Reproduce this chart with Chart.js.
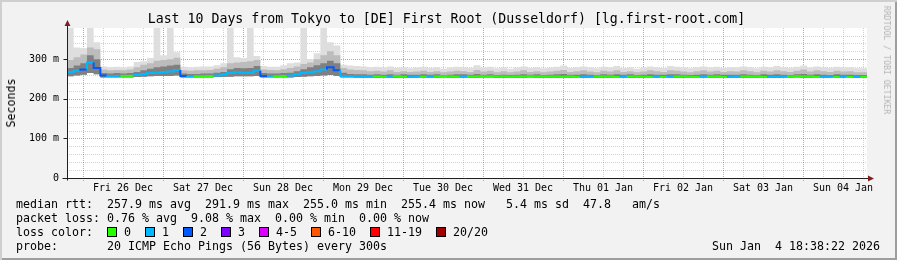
<!DOCTYPE html>
<html>
<head>
<meta charset="utf-8">
<title>smokeping 10 days</title>
<script src="https://cdn.jsdelivr.net/npm/chart.js@4.4.1/dist/chart.umd.min.js"></script>
<style>
  body { margin: 0; background: #fff; }
  #frame {
    position: relative; width: 897px; height: 260px; overflow: hidden;
    background: #f2f2f2;
    box-shadow: inset 2px 2px 0 #cfcfcf, inset -2px -2px 0 #9e9e9e;
    font-family: "DejaVu Sans Mono", monospace; color: #000;
  }
  #frame canvas { position: absolute; left: 0; top: 0; }
  .txt { position: absolute; white-space: pre; font-size: 11.63px; line-height: 14px; }
  #title { left: -2px; width: 897px; top: 10px; text-align: center; font-size: 13.24px; line-height: 17px; }
  #ylab { left: 11px; top: 103px; transform: translate(-50%, -50%) rotate(-90deg); }
  #credit { left: 887px; top: 60px; transform: translate(-50%, -50%) rotate(90deg); font-size: 8.2px; line-height: 10px; color: #b4b4b4; }
  .sq { display: inline-block; width: 8px; height: 8px; border: 1px solid #000; vertical-align: -1px; }
</style>
</head>
<body>
<div id="frame">
  <canvas id="smoke" width="897" height="260"></canvas>
  <div class="txt" id="title">Last 10 Days from Tokyo to [DE] First Root (Dusseldorf) [lg.first-root.com]</div>
  <div class="txt" id="ylab">Seconds</div>
  <div class="txt" id="credit">RRDTOOL / TOBI OETIKER</div>
  <div class="txt" style="left:16px;top:197px">median rtt:  257.9 ms avg  291.9 ms max  255.0 ms min  255.4 ms now   5.4 ms sd  47.8   am/s</div>
  <div class="txt" style="left:16px;top:211px">packet loss: 0.76 % avg  9.08 % max  0.00 % min  0.00 % now</div>
  <div class="txt" id="losscolor" style="left:16px;top:225px"></div>
  <div class="txt" style="left:16px;top:239px">probe:       20 ICMP Echo Pings (56 Bytes) every 300s</div>
  <div class="txt" style="left:712px;top:239px">Sun Jan  4 18:38:22 2026</div>
</div>
<script>
// one value per 2 hour step, starting at the left edge of the graph
const STEP_H = 2;
const SPAN_H = 240;
const FIRST_MIDNIGHT_H = 4.8;   // Fri 26 Dec 00:00, in hours after graph start

const dayLabels = ['Fri 26 Dec', 'Sat 27 Dec', 'Sun 28 Dec', 'Mon 29 Dec', 'Tue 30 Dec',
                   'Wed 31 Dec', 'Thu 01 Jan', 'Fri 02 Jan', 'Sat 03 Jan', 'Sun 04 Jan'];
const yTickValues = [0, 100, 200, 300];

const lossLabels = ['0', '1', '2', '3', '4-5', '6-10', '11-19', '20/20'];
const lossColors = ['#26ff00', '#00b8ff', '#0059ff', '#7e00ff', '#dd00ff', '#ff5500', '#ff0000', '#a10000'];

// median rtt (ms)
const median = [
  262, 268, 271, 274, 291.9, 278, 259, 258, 258, 258,
  258, 260, 263, 265, 266, 268, 269, 273, 258, 257,
  257, 257, 258, 259, 261, 265, 267, 266, 266, 271,
  258, 258, 257, 258, 259, 262, 265, 267, 270, 274,
  280, 272, 258, 257.5, 257, 257, 257, 256.5, 256, 256.5,
  257, 256, 256, 256.5, 256, 256.5, 256.5, 257, 256.5, 256,
  256.5, 256.5, 256.5, 257, 257, 256.5, 256.5, 256, 256.5, 256.5,
  257, 256.5, 256.5, 256.5, 256.5, 256, 256.5, 255.5, 255.5, 256.5,
  256.5, 256.5, 256.5, 255.5, 256.5, 256.5, 256.5, 256, 255.5, 256.5,
  255.5, 256.5, 256.5, 256.5, 256, 255.5, 256.5, 256.5, 256.5, 255.5,
  255.5, 256.5, 256.5, 256.5, 256.5, 255.5, 255.5, 255.5, 256.5, 256.5,
  257, 256.5, 256.5, 255.5, 255.5, 256.5, 255.5, 256, 255.5, 255.5
];

// lost pings out of 20, per step
const loss = [
  1, 1, 2, 1, 2, 2, 1, 1, 0, 0,
  1, 1, 1, 1, 1, 1, 1, 2, 1, 0,
  0, 0, 1, 1, 1, 1, 1, 1, 1, 2,
  1, 0, 0, 1, 1, 1, 1, 1, 1, 2,
  2, 1, 1, 1, 1, 1, 0, 0, 1, 0,
  0, 1, 1, 0, 1, 0, 0, 0, 0, 1,
  0, 0, 0, 0, 0, 0, 0, 0, 0, 0,
  0, 0, 0, 0, 0, 0, 0, 1, 1, 0,
  0, 0, 0, 1, 0, 0, 0, 0, 1, 0,
  1, 0, 0, 0, 0, 1, 0, 0, 0, 1,
  1, 0, 0, 0, 0, 1, 1, 1, 0, 0,
  0, 0, 0, 1, 1, 0, 1, 0, 1, 0
];

// smoke: fastest ping, 75th / 90th percentile, slowest ping (ms)
const pingMin = [
  255, 257, 259, 261, 265, 262, 254, 254, 254, 254,
  254, 255, 256, 257, 258, 258, 258, 259, 254, 254,
  254, 254, 254, 255, 255, 256, 257, 257, 257, 258,
  254, 254, 254, 254, 254, 255, 256, 257, 258, 259,
  260, 258, 254, 254, 253.5, 253.5, 253.5, 253, 253, 253.5,
  253.5, 253, 253, 253.5, 253, 253.5, 253.5, 254, 253.5, 253,
  253.5, 253.5, 253.5, 254, 254, 253.5, 253.5, 253, 253.5, 253.5,
  254, 253.5, 253.5, 253.5, 253.5, 253, 253.5, 252.5, 252.5, 253.5,
  253.5, 253.5, 253.5, 252.5, 253.5, 253.5, 253.5, 253, 252.5, 253.5,
  252.5, 253.5, 253.5, 253.5, 253, 252.5, 253.5, 253.5, 253.5, 252.5,
  252.5, 253.5, 253.5, 253.5, 253.5, 252.5, 252.5, 252.5, 253.5, 253.5,
  254, 253.5, 253.5, 252.5, 252.5, 253.5, 252.5, 253, 252.5, 252.5
];
const pingP75 = [
  268, 278, 284, 290, 310, 300, 265, 264, 265, 264,
  265, 268, 272, 276, 280, 282, 284, 286, 264, 263,
  263, 264, 264, 266, 268, 275, 278, 277, 278, 283,
  265, 264, 264, 265, 266, 270, 275, 280, 285, 290,
  296, 290, 266, 263, 262, 262, 261, 262, 261, 262,
  261, 262, 261, 261, 262, 261, 262, 260, 261, 262,
  262, 261, 263, 261, 262, 260, 261, 260, 261, 262,
  261, 262, 260, 261, 262, 263, 261, 261, 262, 261,
  260, 262, 261, 262, 261, 262, 260, 261, 262, 261,
  261, 262, 262, 261, 260, 261, 262, 261, 262, 261,
  261, 261, 262, 261, 260, 262, 261, 262, 261, 260,
  262, 263, 261, 262, 261, 260, 262, 261, 261, 260
];
const pingP90 = [
  282, 298, 305, 312, 330, 325, 274, 272, 273, 272,
  274, 280, 286, 290, 296, 298, 300, 304, 272, 271,
  272, 272, 273, 276, 280, 290, 292, 293, 295, 298,
  274, 273, 272, 275, 278, 282, 288, 292, 300, 310,
  320, 310, 278, 274, 273, 272, 270, 271, 269, 272,
  268, 270, 268, 269, 271, 268, 270, 267, 269, 271,
  270, 268, 273, 269, 271, 267, 270, 267, 269, 272,
  268, 270, 267, 269, 271, 273, 268, 270, 272, 269,
  267, 271, 269, 272, 268, 270, 267, 269, 272, 270,
  268, 272, 271, 269, 267, 270, 272, 269, 271, 268,
  270, 269, 272, 270, 267, 271, 269, 272, 270, 268,
  271, 274, 269, 272, 270, 268, 271, 269, 270, 267
];
const pingMax = [
  296, 385, 330, 328, 385, 343, 282, 280, 281, 279,
  282, 293, 295, 303, 385, 310, 385, 318, 281, 279,
  281, 282, 282, 285, 290, 385, 305, 303, 385, 308,
  283, 281, 281, 285, 290, 292, 385, 300, 315, 385,
  343, 335, 286, 284, 283, 282, 280, 281, 279, 282,
  278, 280, 277, 279, 281, 278, 280, 276, 279, 281,
  280, 278, 285, 279, 281, 277, 280, 276, 279, 282,
  278, 280, 277, 279, 281, 284, 278, 280, 282, 279,
  277, 281, 279, 283, 278, 280, 276, 279, 282, 280,
  278, 283, 281, 279, 277, 280, 282, 279, 281, 278,
  280, 279, 282, 280, 277, 281, 279, 283, 280, 278,
  281, 284, 279, 282, 280, 278, 281, 279, 280, 277
];

// legend row of loss colours
document.getElementById('losscolor').innerHTML = 'loss color:  ' + lossLabels.map((l, i) =>
  `<span class="sq" style="background:${lossColors[i]}"></span> ${l}`).join('  ');

// step series -> points, with one closing point at the right edge
function toPoints(arr) {
  const pts = arr.map((v, i) => ({ x: i * STEP_H, y: v }));
  pts.push({ x: arr.length * STEP_H, y: arr[arr.length - 1] });
  return pts;
}

function smokeLayer(data, color, order) {
  return {
    data: toPoints(data), stepped: 'after', fill: 0, order: order,
    backgroundColor: color, borderWidth: 0, pointRadius: 0
  };
}

const gridColor = 'rgba(143,143,143,0.4)';
const mgridColor = 'rgba(222,79,79,0.6)';

const rrdFrame = {
  id: 'rrdFrame',
  beforeDatasetsDraw(chart) {
    const { ctx, chartArea: a, scales: { x, y } } = chart;
    ctx.save();
    ctx.fillStyle = '#fff';
    ctx.fillRect(a.left, a.top, a.right - a.left, a.bottom - a.top);
    ctx.lineWidth = 1;
    ctx.setLineDash([1, 1]);
    // minor grid first, then the red day / 100 ms lines on top
    for (const major of [false, true]) {
      ctx.strokeStyle = major ? mgridColor : gridColor;
      ctx.beginPath();
      for (let v = 20; v < y.max; v += 20) {
        if ((v % 100 === 0) !== major) continue;
        const py = Math.round(y.getPixelForValue(v)) + 0.5;
        ctx.moveTo(a.left, py); ctx.lineTo(a.right, py);
      }
      for (let k = 0, h = FIRST_MIDNIGHT_H; h < SPAN_H; k++, h += 6) {
        if ((k % 4 === 0) !== major) continue;
        const px = Math.round(x.getPixelForValue(h)) + 0.5;
        ctx.moveTo(px, a.top); ctx.lineTo(px, a.bottom + (major ? 3 : 0));
      }
      ctx.stroke();
    }
    ctx.restore();
  },
  afterDraw(chart) {
    const { ctx, chartArea: a, scales: { x, y } } = chart;
    const ax = Math.round(a.left) + 0.5;
    const ay = Math.round(a.bottom) + 0.5;
    ctx.save();
    ctx.strokeStyle = '#1f1f1f';
    ctx.lineWidth = 1;
    ctx.beginPath();
    ctx.moveTo(ax, ay + 2); ctx.lineTo(ax, a.top - 2);
    ctx.moveTo(ax - 5, ay); ctx.lineTo(a.right + 2, ay);
    for (const v of yTickValues) {
      const py = Math.round(y.getPixelForValue(v)) + 0.5;
      ctx.moveTo(ax - 4, py); ctx.lineTo(ax, py);
    }
    ctx.stroke();
    ctx.fillStyle = '#7f1f1f';
    ctx.beginPath();
    ctx.moveTo(ax - 3, a.top - 2); ctx.lineTo(ax + 3, a.top - 2); ctx.lineTo(ax, a.top - 8); ctx.closePath();
    ctx.moveTo(a.right + 1, ay - 3); ctx.lineTo(a.right + 1, ay + 3); ctx.lineTo(a.right + 7, ay); ctx.closePath();
    ctx.fill();
    ctx.restore();
  }
};

Chart.defaults.font.family = '"DejaVu Sans Mono", monospace';
Chart.defaults.color = '#000';

new Chart(document.getElementById('smoke'), {
  type: 'line',
  data: {
    datasets: [
      { data: toPoints(pingMin), stepped: 'after', borderWidth: 0, pointRadius: 0, order: 10 },
      smokeLayer(pingMax, '#dedede', 9),
      smokeLayer(pingP90, '#bcbcbc', 8),
      smokeLayer(pingP75, '#808080', 7),
      {
        data: toPoints(median), stepped: 'after', order: 1,
        borderWidth: 2, pointRadius: 0, fill: false,
        segment: { borderColor: c => lossColors[Math.min(loss[c.p0DataIndex], 7)] }
      }
    ]
  },
  options: {
    responsive: false,
    devicePixelRatio: 1,
    animation: false,
    events: [],
    layout: { padding: { left: 0, right: 30, top: 28, bottom: 0 } },
    plugins: { legend: { display: false }, tooltip: { enabled: false } },
    scales: {
      x: {
        type: 'linear', min: 0, max: SPAN_H,
        grid: { display: false, drawTicks: false }, border: { display: false },
        afterFit: s => { s.height = 82; },
        afterBuildTicks: s => { s.ticks = dayLabels.map((d, i) => ({ value: FIRST_MIDNIGHT_H + 12 + 24 * i })); },
        ticks: {
          autoSkip: false, maxRotation: 0, padding: 4,
          font: { size: 10 },
          callback: (v, i) => dayLabels[i]
        }
      },
      y: {
        min: 0, max: 379,
        grid: { display: false, drawTicks: false }, border: { display: false },
        afterFit: s => { s.width = 67; },
        afterBuildTicks: s => { s.ticks = yTickValues.map(v => ({ value: v })); },
        ticks: {
          padding: 8,
          font: { size: 10 },
          callback: v => v === 0 ? '0' : v + ' m'
        }
      }
    }
  },
  plugins: [rrdFrame]
});
</script>
</body>
</html>
